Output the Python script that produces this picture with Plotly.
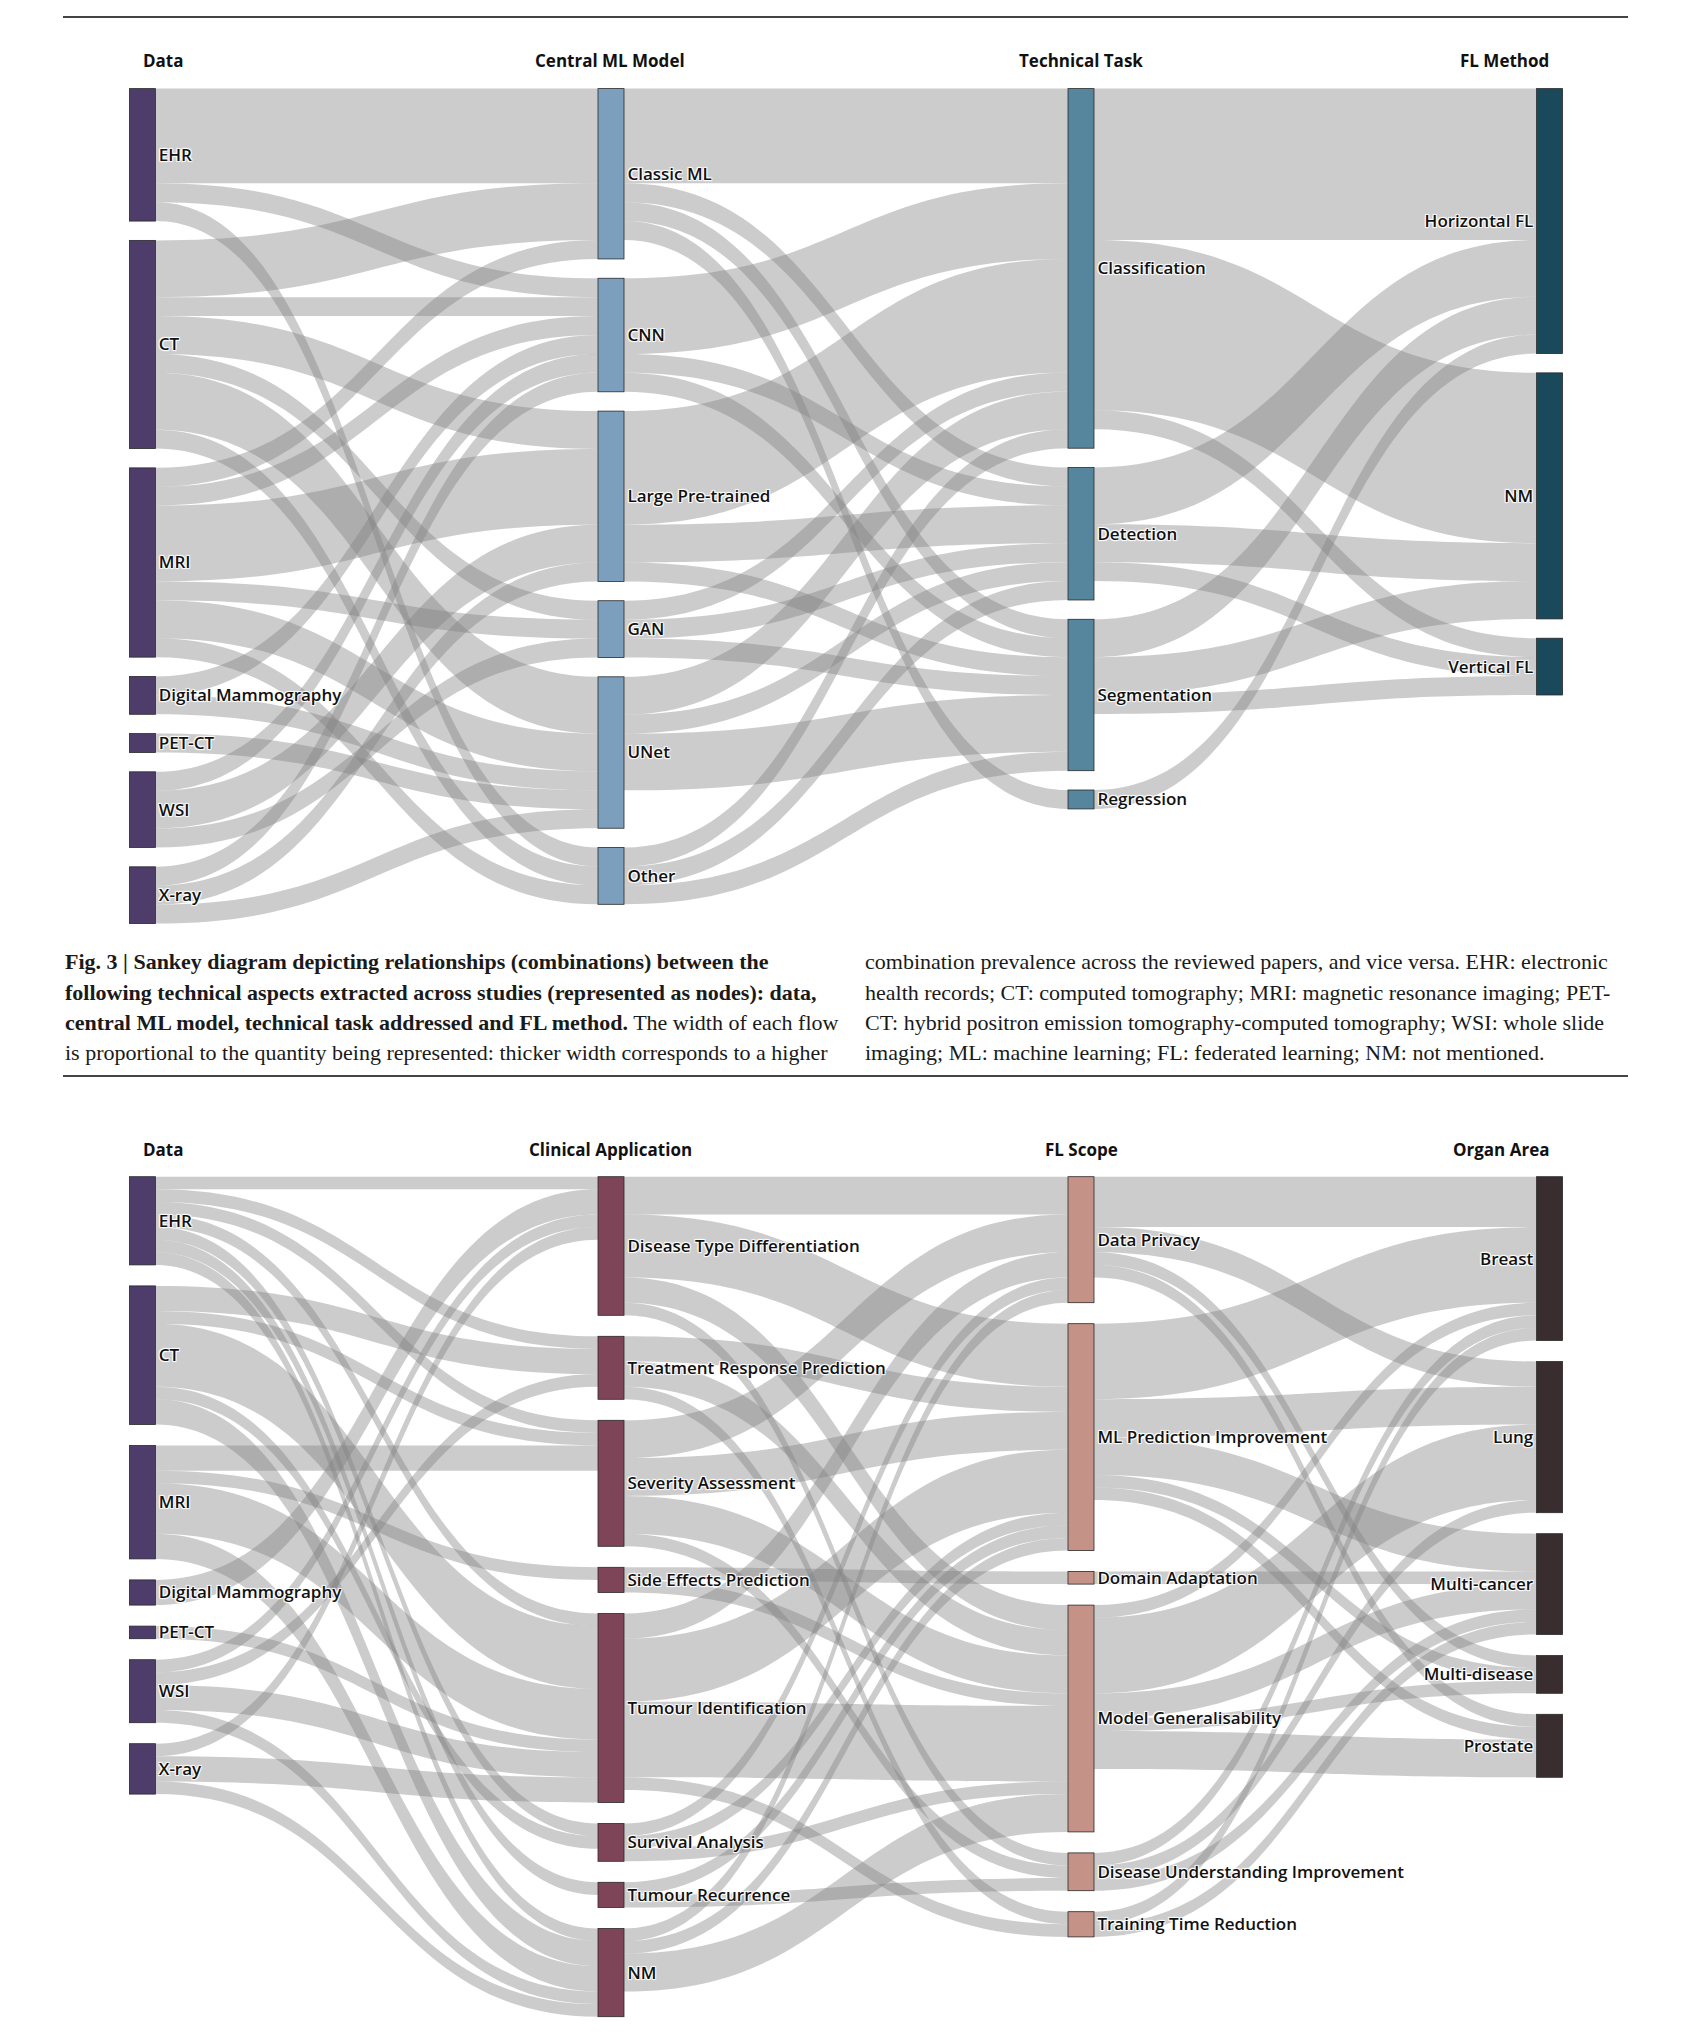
import plotly.graph_objects as go

# page geometry: the HTML body adds an 8px margin, so the figure is 8px smaller
PAGE_W, PAGE_H = 1685, 2044
OFF = 8
FIG_W, FIG_H = PAGE_W - OFF, PAGE_H - OFF

# ---------------- Fig. 3 data ----------------
f3_headers = ["Data", "Central ML Model", "Technical Task", "FL Method"]
f3_data = ["EHR", "CT", "MRI", "Digital Mammography", "PET-CT", "WSI", "X-ray"]
f3_model = ["Classic ML", "CNN", "Large Pre-trained", "GAN", "UNet", "Other"]
f3_task = ["Classification", "Detection", "Segmentation", "Regression"]
f3_fl = ["Horizontal FL", "NM", "Vertical FL"]

# rows: source node, columns: target node (number of studies)
f3_data_to_model = [
    [5, 1, 0, 0, 0, 1],   # EHR
    [3, 1, 2, 1, 3, 1],   # CT
    [1, 1, 4, 1, 2, 1],   # MRI
    [0, 1, 0, 0, 1, 0],   # Digital Mammography
    [0, 0, 0, 0, 1, 0],   # PET-CT
    [0, 1, 2, 1, 0, 0],   # WSI
    [0, 1, 1, 0, 1, 0],   # X-ray
]
f3_model_to_task = [
    [5, 1, 1, 1],   # Classic ML
    [4, 1, 1, 0],   # CNN
    [6, 2, 1, 0],   # Large Pre-trained
    [1, 1, 1, 0],   # GAN
    [2, 1, 3, 0],   # UNet
    [1, 1, 1, 0],   # Other
]
f3_task_to_fl = [
    [8, 9, 1],   # Classification
    [3, 2, 1],   # Detection
    [2, 2, 1],   # Segmentation
    [1, 0, 0],   # Regression
]

# ---------------- Fig. 4 data ----------------
f4_headers = ["Data", "Clinical Application", "FL Scope", "Organ Area"]
f4_data = ["EHR", "CT", "MRI", "Digital Mammography", "PET-CT", "WSI", "X-ray"]
f4_app = ["Disease Type Differentiation", "Treatment Response Prediction", "Severity Assessment",
          "Side Effects Prediction", "Tumour Identification", "Survival Analysis",
          "Tumour Recurrence", "NM"]
f4_scope = ["Data Privacy", "ML Prediction Improvement", "Domain Adaptation",
            "Model Generalisability", "Disease Understanding Improvement", "Training Time Reduction"]
f4_organ = ["Breast", "Lung", "Multi-cancer", "Multi-disease", "Prostate"]

f4_data_to_app = [
    [1, 1, 1, 0, 1, 1, 1, 1],   # EHR
    [0, 2, 1, 0, 5, 1, 0, 2],   # CT
    [0, 0, 2, 1, 4, 0, 0, 2],   # MRI
    [2, 0, 0, 0, 0, 0, 0, 0],   # Digital Mammography
    [0, 0, 0, 0, 1, 0, 0, 0],   # PET-CT
    [1, 1, 0, 0, 2, 0, 0, 1],   # WSI
    [1, 0, 0, 0, 2, 0, 0, 1],   # X-ray
]
f4_app_to_scope = [
    [3, 5, 0, 2, 1, 0],   # Disease Type Differentiation
    [0, 2, 0, 2, 0, 1],   # Treatment Response Prediction
    [3, 3, 0, 3, 1, 0],   # Severity Assessment
    [0, 0, 1, 1, 0, 0],   # Side Effects Prediction
    [2, 5, 0, 6, 0, 1],   # Tumour Identification
    [1, 1, 0, 1, 0, 0],   # Survival Analysis
    [0, 1, 0, 0, 1, 0],   # Tumour Recurrence
    [1, 1, 0, 3, 0, 0],   # NM
]
f4_scope_to_organ = [
    [4, 2, 0, 1, 1],   # Data Privacy
    [6, 3, 3, 1, 1],   # ML Prediction Improvement
    [0, 0, 1, 0, 0],   # Domain Adaptation
    [1, 6, 2, 1, 3],   # Model Generalisability
    [1, 1, 1, 0, 0],   # Disease Understanding Improvement
    [1, 0, 1, 0, 0],   # Training Time Reduction
]

caption_left = [
    "<b>Fig. 3 | Sankey diagram depicting relationships (combinations) between the</b>",
    "<b>following technical aspects extracted across studies (represented as nodes): data,</b>",
    "<b>central ML model, technical task addressed and FL method.</b> The width of each flow",
    "is proportional to the quantity being represented: thicker width corresponds to a higher",
]
caption_right = [
    "combination prevalence across the reviewed papers, and vice versa. EHR: electronic",
    "health records; CT: computed tomography; MRI: magnetic resonance imaging; PET-",
    "CT: hybrid positron emission tomography-computed tomography; WSI: whole slide",
    "imaging; ML: machine learning; FL: federated learning; NM: not mentioned.",
]

# ---------------- styling / layout constants ----------------
F3_COLORS = ["#4e3d6a", "#7d9fbe", "#56869e", "#1a495c"]
F4_COLORS = ["#4e3d6a", "#7e4458", "#c49286", "#3a2d30"]
LINK_COLOR = "rgba(128,128,128,0.40)"
COL_X_PX = [141, 610, 1081, 1551]      # node centres on the page
NODE_THICK = 26
LABEL_FONT = dict(family="Open Sans", size=17, color="#111111", weight=600)
HEADER_FONT = dict(family="Open Sans", size=17, color="#111111")
CAPTION_FONT = dict(family="Liberation Serif", size=22, color="#1a1a1a")


def px_x(X):
    return (X - OFF) / FIG_W


def px_y(Y):
    return 1 - (Y - OFF) / FIG_H


def build_sankey(columns, matrices, colors, top_px, height_px, pad):
    labels, node_colors, offsets = [], [], []
    for ci, col in enumerate(columns):
        offsets.append(len(labels))
        labels += col
        node_colors += [colors[ci]] * len(col)
    src, tgt, val = [], [], []
    for ci, mat in enumerate(matrices):
        for i, row in enumerate(mat):
            for j, v in enumerate(row):
                if v:
                    src.append(offsets[ci] + i)
                    tgt.append(offsets[ci + 1] + j)
                    val.append(v)
    n = len(labels)
    vin, vout = [0] * n, [0] * n
    for s, t, v in zip(src, tgt, val):
        vout[s] += v
        vin[t] += v
    value = [max(a, b) for a, b in zip(vin, vout)]
    ky = min((height_px - (len(col) - 1) * pad) /
             sum(value[offsets[ci] + k] for k in range(len(col)))
             for ci, col in enumerate(columns))
    xs, ys = [], []
    ncol = len(columns)
    for ci, col in enumerate(columns):
        y = 0.0
        for k in range(len(col)):
            h = value[offsets[ci] + k] * ky
            ys.append((y + h / 2) / height_px)
            xs.append(min(max(ci / (ncol - 1), 0.001), 0.999))
            y += h + pad
    dom_x = [px_x(COL_X_PX[0]), px_x(COL_X_PX[-1])]
    dom_y = [px_y(top_px + height_px), px_y(top_px)]
    return go.Sankey(
        arrangement="fixed",
        domain=dict(x=dom_x, y=dom_y),
        node=dict(label=labels, color=node_colors, x=xs, y=ys, pad=pad,
                  thickness=NODE_THICK, line=dict(color="#2a2a2a", width=0.8),
                  hoverinfo="skip"),
        link=dict(source=src, target=tgt, value=val, color=LINK_COLOR,
                  hoverinfo="skip"),
        textfont=LABEL_FONT,
    )


fig = go.Figure()
fig.add_trace(build_sankey([f3_data, f3_model, f3_task, f3_fl],
                           [f3_data_to_model, f3_model_to_task, f3_task_to_fl],
                           F3_COLORS, top_px=88.6, height_px=835, pad=19.3))
fig.add_trace(build_sankey([f4_data, f4_app, f4_scope, f4_organ],
                           [f4_data_to_app, f4_app_to_scope, f4_scope_to_organ],
                           F4_COLORS, top_px=1176.7, height_px=840, pad=21))

annotations = []


def header_row(headers, y_px):
    for i, h in enumerate(headers):
        anchor = "left" if i == 0 else ("right" if i == len(headers) - 1 else "center")
        annotations.append(dict(text="<b>%s</b>" % h, x=px_x(COL_X_PX[i]), y=px_y(y_px),
                                xref="paper", yref="paper", xanchor=anchor, yanchor="middle",
                                showarrow=False, font=HEADER_FONT))


header_row(f3_headers, 61)
header_row(f4_headers, 1149)

CAP_Y = [962, 992, 1022, 1052]
for lines, x_px in ((caption_left, 63), (caption_right, 863)):
    for line, y_px in zip(lines, CAP_Y):
        annotations.append(dict(text=line, x=px_x(x_px), y=px_y(y_px), xref="paper",
                                yref="paper", xanchor="left", yanchor="middle", showarrow=False,
                                font=CAPTION_FONT))

shapes = []
for y_px in (17, 1076):
    shapes.append(dict(type="line", xref="paper", yref="paper", x0=px_x(63), x1=px_x(1628),
                       y0=px_y(y_px), y1=px_y(y_px), line=dict(color="#444444", width=2)))

fig.update_layout(width=FIG_W, height=FIG_H, margin=dict(l=0, r=0, t=0, b=0),
                  paper_bgcolor="white", plot_bgcolor="white",
                  annotations=annotations, shapes=shapes, showlegend=False)
fig.write_html("out.html")
